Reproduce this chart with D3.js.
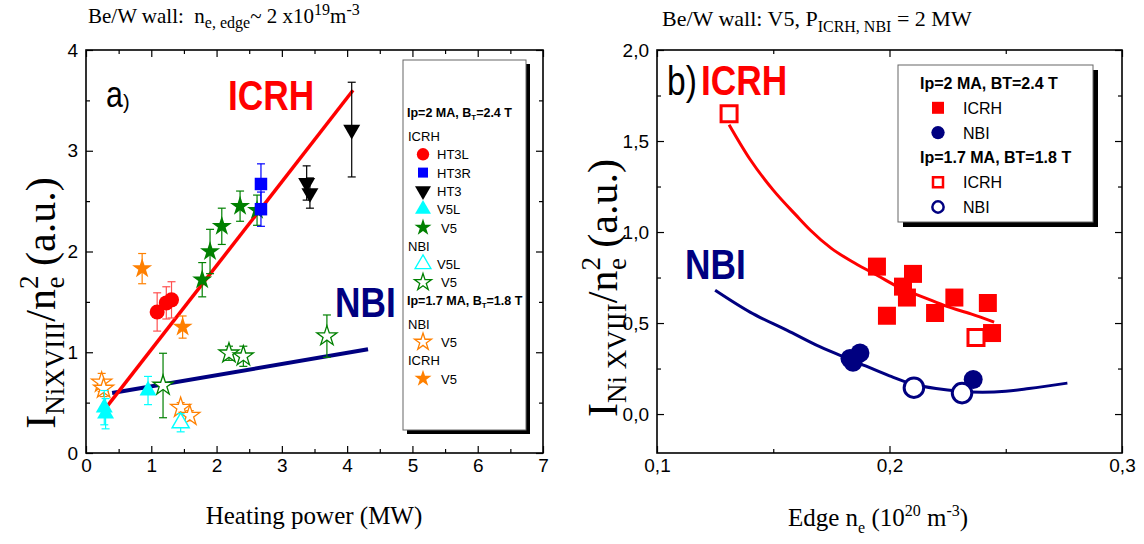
<!DOCTYPE html>
<html>
<head>
<meta charset="utf-8">
<script src="https://cdn.jsdelivr.net/npm/d3@7/dist/d3.min.js"></script>
<style>
body{margin:0;background:#fff;}
svg text{font-family:"Liberation Sans",Arial,sans-serif;white-space:pre;}
svg .serif{font-family:"Liberation Serif","Times New Roman",serif;}
</style>
</head>
<body>
<svg id="chart" width="1144" height="544"></svg>
<script>
// ---- panel a) heating power (MW) vs I/ne^2, rows are [x, y, error]
var icrhHT3L = [[1.09,1.40,0.19],[1.23,1.49,0.16],[1.31,1.52,0.18]];
var icrhHT3R = [[2.68,2.67,0.20],[2.68,2.42,0.17]];
var icrhHT3  = [[3.38,2.68,0.17],[3.43,2.58,0.15],[4.07,3.21,0.47]];
var icrhV5L  = [[0.28,0.45,0.17],[0.30,0.39,0.15],[0.95,0.62,0.14]];
var icrhV5   = [[1.78,1.72,0.17],[1.90,2.00,0.22],[2.08,2.25,0.18],[2.36,2.45,0.15],[2.62,2.41,0.15]];
var nbiV5L   = [[1.45,0.30,0.09]];
var nbiV5    = [[1.18,0.67,0.32],[2.19,0.99,0.07],[2.41,0.96,0.10],[3.69,1.16,0.21]];
var nbiV5low  = [[0.24,0.70,0.09],[0.27,0.64,0.08],[1.45,0.45,0.05],[1.59,0.37,0.05]];
var icrhV5low = [[0.86,1.83,0.15],[1.48,1.25,0.11]];
var icrhFitA = [[0.26,0.41],[4.09,3.60]];
var nbiFitA  = [[0.40,0.595],[4.32,1.03]];

// ---- panel b) edge density vs I/ne^2, rows are [x, y]
var icrhB    = [[0.1946,0.81],[0.2058,0.70],[0.2101,0.77],[0.2075,0.64],[0.1989,0.54],[0.2196,0.555],[0.2279,0.64],[0.2423,0.61],[0.2441,0.445]];
var nbiB     = [[0.183,0.305],[0.1843,0.285],[0.1873,0.335],[0.236,0.19]];
var icrhBlow = [[0.131,1.65],[0.2372,0.42]];
var nbiBlow  = [[0.2105,0.145],[0.2312,0.115]];
var icrhFitB = [[0.131,1.59],[0.14,1.40],[0.15,1.23],[0.16,1.09],[0.166,1.01],[0.175,0.91],[0.185,0.83],[0.195,0.76],[0.205,0.69],[0.215,0.64],[0.225,0.59],[0.235,0.55],[0.245,0.505]];
var nbiFitB  = [[0.125,0.68],[0.14,0.56],[0.156,0.46],[0.17,0.37],[0.185,0.29],[0.2,0.21],[0.21,0.165],[0.22,0.14],[0.23,0.125],[0.24,0.12],[0.25,0.125],[0.26,0.14],[0.2765,0.17]];

// ---- ticks
var xTicksA = [0,1,2,3,4,5,6,7];
var xMinorA = [0.5,1.5,2.5,3.5,4.5,5.5,6.5];
var yTicksA = [0,1,2,3,4];
var yMinorA = [0.5,1.5,2.5,3.5];
var xTicksB = [0.1,0.2,0.3];
var xMinorB = [0.15,0.25];
var yTicksB = [0,0.5,1,1.5,2];
var yMinorB = [0.25,0.75,1.25,1.75];

var svg = d3.select('#chart');
var RED = '#ff0000', NAVY = '#000080', BLUE = '#0000ff', CYAN = '#00ffff', GREEN = '#008000', ORANGE = '#ff8000';

var xA = d3.scaleLinear().domain([0,7]).range([86,543]);
var yA = d3.scaleLinear().domain([0,4]).range([453,50]);
var xB = d3.scaleLinear().domain([0.1,0.3]).range([657,1122]);
var yB = d3.scaleLinear().domain([-0.214,2.0]).range([453,50]);

function comma(d){ return d3.format('.1f')(d).replace('.',','); }

function frame(x, y, xMaj, xMin, yMaj, yMin, fx, fy)
{
  var g = svg.append('g');
  var x0 = x.range()[0], x1 = x.range()[1], y0 = y.range()[0], y1 = y.range()[1];
  var parts = [
    [d3.axisBottom(x).tickValues(xMaj).tickSize(-7).tickPadding(6).tickFormat(fx), 'translate(0,'+y0+')'],
    [d3.axisBottom(x).tickValues(xMin).tickSize(-4).tickFormat(''), 'translate(0,'+y0+')'],
    [d3.axisTop(x).tickValues(xMaj).tickSize(-7).tickFormat(''), 'translate(0,'+y1+')'],
    [d3.axisTop(x).tickValues(xMin).tickSize(-4).tickFormat(''), 'translate(0,'+y1+')'],
    [d3.axisLeft(y).tickValues(yMaj).tickSize(-7).tickPadding(8).tickFormat(fy), 'translate('+x0+',0)'],
    [d3.axisLeft(y).tickValues(yMin).tickSize(-4).tickFormat(''), 'translate('+x0+',0)'],
    [d3.axisRight(y).tickValues(yMaj).tickSize(-7).tickFormat(''), 'translate('+x1+',0)'],
    [d3.axisRight(y).tickValues(yMin).tickSize(-4).tickFormat(''), 'translate('+x1+',0)']
  ];
  parts.forEach(function(p){
    var a = g.append('g').attr('transform',p[1]).call(p[0]);
    a.select('.domain').remove();
    a.selectAll('line').attr('stroke','#000').attr('stroke-width',1.2);
    a.selectAll('text').attr('font-size',19).attr('font-family','"Liberation Sans",Arial,sans-serif').attr('fill','#000');
  });
  g.append('rect').attr('x',x0).attr('y',y1).attr('width',x1-x0).attr('height',y0-y1)
    .attr('fill','none').attr('stroke','#000').attr('stroke-width',1.6);
}

function sym(type, size){ return d3.symbol().type(type).size(size)(); }

// error bars with caps then markers
function points(x, y, data, type, size, color, open, flip, errColor)
{
  var g = svg.append('g');
  data.forEach(function(d){
    if (d[2]) {
      var c = errColor || color;
      g.append('line').attr('x1',x(d[0])).attr('x2',x(d[0])).attr('y1',y(d[1]-d[2])).attr('y2',y(d[1]+d[2])).attr('stroke',c).attr('stroke-width',1.2);
      g.append('line').attr('x1',x(d[0])-4).attr('x2',x(d[0])+4).attr('y1',y(d[1]+d[2])).attr('y2',y(d[1]+d[2])).attr('stroke',c).attr('stroke-width',1.2);
      g.append('line').attr('x1',x(d[0])-4).attr('x2',x(d[0])+4).attr('y1',y(d[1]-d[2])).attr('y2',y(d[1]-d[2])).attr('stroke',c).attr('stroke-width',1.2);
    }
  });
  g.selectAll('path').data(data).enter().append('path')
    .attr('d',sym(type,size))
    .attr('transform',function(d){ return 'translate('+x(d[0])+','+y(d[1])+')'+(flip?' rotate(180)':''); })
    .attr('fill',open?'#fff':color)
    .attr('stroke',open?color:'none')
    .attr('stroke-width',open?(open===true?1.5:open):0);
}

function fit(x, y, data, color, w, curve)
{
  svg.append('path').datum(data)
    .attr('d',d3.line().x(function(d){return x(d[0]);}).y(function(d){return y(d[1]);}).curve(curve||d3.curveLinear))
    .attr('fill','none').attr('stroke',color).attr('stroke-width',w);
}

function bigText(x, y, txt, color, size)
{
  svg.append('text').attr('transform','translate('+x+','+y+') scale(0.82,1)')
    .attr('font-size',size).attr('font-weight','bold').attr('fill',color).text(txt);
}

// ================= panel a
frame(xA, yA, xTicksA, xMinorA, yTicksA, yMinorA, d3.format('d'), d3.format('d'));

fit(xA, yA, nbiFitA, NAVY, 4);
fit(xA, yA, icrhFitA, RED, 3.5);

points(xA, yA, icrhV5low, d3.symbolStar, 125, ORANGE);
points(xA, yA, nbiV5low, d3.symbolStar, 125, ORANGE, 1.3);
points(xA, yA, nbiV5, d3.symbolStar, 125, GREEN, 1.3);
points(xA, yA, nbiV5L, d3.symbolTriangle, 125, CYAN, 1.5);
points(xA, yA, icrhV5L, d3.symbolTriangle, 125, CYAN);
points(xA, yA, icrhV5, d3.symbolStar, 125, GREEN);
points(xA, yA, icrhHT3L, d3.symbolCircle, 177, RED, false, false, '#ff5050');
points(xA, yA, icrhHT3R, d3.symbolSquare, 156, BLUE);
points(xA, yA, icrhHT3, d3.symbolTriangle, 125, '#000', false, true);

bigText(228, 110, 'ICRH', RED, 43);
bigText(335, 317, 'NBI', NAVY, 43);
svg.append('text').attr('transform','translate(106,107) scale(0.82,1)').attr('font-size',37).text('a');
svg.append('text').attr('x',123).attr('y',109).attr('font-size',20).text(')');

// legend a
var legendA = [
  {head:['Ip=2 MA, B','T','=2.4 T']},
  {label:'ICRH'},
  {label:'HT3L', type:d3.symbolCircle, size:120, color:RED},
  {label:'HT3R', type:d3.symbolSquare, size:100, color:BLUE},
  {label:'HT3', type:d3.symbolTriangle, size:110, color:'#000', flip:true},
  {label:'V5L', type:d3.symbolTriangle, size:110, color:CYAN},
  {label:'V5', type:d3.symbolStar, size:90, color:GREEN},
  {label:'NBI'},
  {label:'V5L', type:d3.symbolTriangle, size:110, color:CYAN, open:true},
  {label:'V5', type:d3.symbolStar, size:90, color:GREEN, open:true},
  {head:['Ip=1.7 MA, B','T','=1.8 T']},
  {label:'NBI'},
  {label:'V5', type:d3.symbolStar, size:90, color:ORANGE, open:true},
  {label:'ICRH'},
  {label:'V5', type:d3.symbolStar, size:90, color:ORANGE}
];

svg.append('rect').attr('x',407).attr('y',64).attr('width',123).attr('height',370).attr('fill','#000');
svg.append('rect').attr('x',403).attr('y',60).attr('width',123).attr('height',370).attr('fill','#fff').attr('stroke','#666').attr('stroke-width',1);

var ly = 113;
legendA.forEach(function(r, i){
  if (i > 0) ly += legendA[i-1].head ? 23 : 18.3;
  if (r.head) {
    var t = svg.append('text').attr('x',407).attr('y',ly+4).attr('font-size',12.5).attr('font-weight','bold');
    t.append('tspan').text(r.head[0]);
    t.append('tspan').attr('font-size',8).attr('dy',3).text(r.head[1]);
    t.append('tspan').attr('dy',-3).text(r.head[2]);
  } else if (!r.type) {
    svg.append('text').attr('x',408).attr('y',ly+5).attr('font-size',13).text(r.label);
  } else {
    svg.append('path').attr('d',sym(r.type,r.size))
      .attr('transform','translate(423,'+ly+')'+(r.flip?' rotate(180)':''))
      .attr('fill',r.open?'#fff':r.color).attr('stroke',r.open?r.color:'none').attr('stroke-width',1.3);
    svg.append('text').attr('x',r.label.length<3?441:437).attr('y',ly+5).attr('font-size',13).text(r.label);
  }
});

// ================= panel b
frame(xB, yB, xTicksB, xMinorB, yTicksB, yMinorB, comma, comma);

fit(xB, yB, nbiFitB, NAVY, 3, d3.curveMonotoneX);
fit(xB, yB, icrhFitB, RED, 3, d3.curveMonotoneX);

points(xB, yB, icrhB, d3.symbolSquare, 324, RED);
points(xB, yB, nbiB, d3.symbolCircle, 283, NAVY);
points(xB, yB, icrhBlow, d3.symbolSquare, 256, RED, 3);
points(xB, yB, nbiBlow, d3.symbolCircle, 300, NAVY, 3);

svg.append('text').attr('transform','translate(667,95) scale(0.82,1)').attr('font-size',41).text('b)');
bigText(701, 95, 'ICRH', RED, 43);
bigText(685, 279, 'NBI', NAVY, 43);

// legend b
var legendB = [
  {head:'Ip=2 MA, BT=2.4 T'},
  {label:'ICRH', type:d3.symbolSquare, size:144, color:RED},
  {label:'NBI', type:d3.symbolCircle, size:140, color:NAVY},
  {head:'Ip=1.7 MA, BT=1.8 T'},
  {label:'ICRH', type:d3.symbolSquare, size:100, color:RED, open:true},
  {label:'NBI', type:d3.symbolCircle, size:100, color:NAVY, open:true}
];
svg.append('rect').attr('x',903).attr('y',70).attr('width',195).attr('height',157).attr('fill','#000');
svg.append('rect').attr('x',898).attr('y',65).attr('width',195).attr('height',157).attr('fill','#fff').attr('stroke','#666').attr('stroke-width',1);
legendB.forEach(function(r, i){
  var y = 83 + i*24.8;
  if (r.head) {
    svg.append('text').attr('x',920).attr('y',y+6).attr('font-size',16).attr('font-weight','bold').text(r.head);
  } else {
    svg.append('path').attr('d',sym(r.type,r.size)).attr('transform','translate(938,'+y+')')
      .attr('fill',r.open?'#fff':r.color).attr('stroke',r.open?r.color:'none').attr('stroke-width',2.5);
    svg.append('text').attr('x',963).attr('y',y+6).attr('font-size',16).text(r.label);
  }
});

// ================= axis titles and headers
function yLabel(x, y, sub)
{
  var t = svg.append('text').attr('class','serif').attr('transform','translate('+x+','+y+') rotate(-90)')
    .attr('text-anchor','middle').attr('font-size',42);
  t.append('tspan').text('I');
  t.append('tspan').attr('font-size',27).attr('dy',9).text(sub);
  t.append('tspan').attr('dy',-9).text('/n');
  t.append('tspan').attr('font-size',27).attr('dy',-17).text('2');
  t.append('tspan').attr('font-size',27).attr('dx',-13).attr('dy',26).text('e');
  t.append('tspan').attr('dy',-9).text(' (a.u.)');
}
yLabel(55, 303, 'NiXVIII');
yLabel(617, 288, 'Ni XVIII');

svg.append('text').attr('class','serif').attr('x',314).attr('y',524).attr('text-anchor','middle').attr('font-size',25).text('Heating power (MW)');

var xl = svg.append('text').attr('class','serif').attr('x',878).attr('y',526).attr('text-anchor','middle').attr('font-size',25);
xl.append('tspan').text('Edge n');
xl.append('tspan').attr('font-size',16).attr('dy',7).text('e');
xl.append('tspan').attr('dy',-7).text(' (10');
xl.append('tspan').attr('font-size',16).attr('dy',-10).text('20');
xl.append('tspan').attr('dy',10).text(' m');
xl.append('tspan').attr('font-size',16).attr('dy',-10).text('-3');
xl.append('tspan').attr('dy',10).text(')');

var ta = svg.append('text').attr('class','serif').attr('x',88).attr('y',23).attr('font-size',21);
ta.append('tspan').text('Be/W wall:  n');
ta.append('tspan').attr('font-size',16).attr('dy',5).text('e, edge');
ta.append('tspan').attr('dy',-5).text('~ 2 x10');
ta.append('tspan').attr('font-size',16).attr('dy',-8).text('19');
ta.append('tspan').attr('dy',8).text('m');
ta.append('tspan').attr('font-size',16).attr('dy',-8).text('-3');

var tb = svg.append('text').attr('class','serif').attr('x',662).attr('y',26).attr('font-size',22);
tb.append('tspan').text('Be/W wall: V5, P');
tb.append('tspan').attr('font-size',16).attr('dy',6).text('ICRH, NBI');
tb.append('tspan').attr('dy',-6).text(' = 2 MW');
</script>
</body>
</html>
